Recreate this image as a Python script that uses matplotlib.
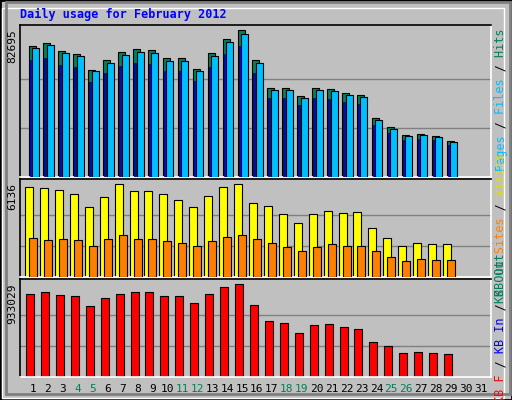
import matplotlib
matplotlib.use("Agg")
import matplotlib.pyplot as plt
from matplotlib.patches import Rectangle
import numpy as np

days = list(range(1, 32))
hits = [73700,75400,70900,69200,60200,65800,70300,72000,71400,66900,66900,60700,69700,77600,82695,65800,50100,50100,45600,50100,49500,47200,46100,33200,28100,23600,24200,23100,20200]
files = [72300,74000,69500,67800,59600,64400,68900,70600,70000,65500,65500,59900,68300,76200,80500,64400,49000,49000,44500,49000,48400,46100,45000,32200,27200,22800,23400,22300,19600]
pages = [65600,67100,63100,61600,53600,58600,62600,64100,63500,59500,59500,54000,62000,69100,73600,58600,44600,44600,40600,44600,44100,42000,41000,29500,25000,21000,21500,20600,18000]
visits = [5940,5874,5742,5478,4620,5280,6136,5676,5676,5478,5082,4620,5346,5940,6136,4884,4686,4158,3564,4158,4356,4224,4290,3234,2574,2046,2244,2178,2178]
sites = [2574,2442,2508,2442,2046,2508,2772,2508,2508,2376,2244,2046,2376,2640,2772,2508,2244,1980,1716,1980,2178,2046,2046,1716,1320,1056,1188,1122,1122]
kbytes = [829400,850100,819000,808600,715300,787900,829400,850100,850100,808600,808600,746400,829400,901900,933029,725700,559800,539100,445800,518400,528700,497600,476900,352500,311000,238400,248800,238400,228100]
weekend = [4,5,11,12,18,19,25,26]
max_hits, max_visits, max_kb = 82695, 6136, 933029

W, H = 512, 400
BG = "#c0c0c0"
fig = plt.figure(figsize=(W/100, H/100), dpi=100, facecolor=BG)
mono = "DejaVu Sans Mono"

fig.patches.append(Rectangle((0, 0), 1, 1, transform=fig.transFigure, fill=False, ec="black", lw=2))
fig.patches.append(Rectangle((2/W, 2/H), 1-10/W, 1-10/H, transform=fig.transFigure, fill=False, ec="white", lw=1))
fig.patches.append(Rectangle((6/W, 6/H), 1-8/W, 1-8/H, transform=fig.transFigure, fill=False, ec="#808080", lw=2))

px = 14.93
x0 = 1 + (20 - 33) / px
x1 = 1 + (491 - 33) / px

def mkax(ytop, ybot, vmax, ylab):
    ax = fig.add_axes([20/W, 1-ybot/H, 471/W, (ybot-ytop)/H])
    ax.set_facecolor(BG)
    ax.set_xlim(x0, x1)
    h = ybot - ytop - 2
    ax.set_ylim(0, vmax * (ybot - ytop) / (h - 3))
    for f in (1/3, 2/3):
        ax.axhline(vmax * f, color="#808080", lw=1, zorder=0)
    ax.set_xticks([]); ax.set_yticks([])
    for s in ax.spines.values():
        s.set_color("black"); s.set_linewidth(1.2)
    ax.spines["bottom"].set_color("white"); ax.spines["right"].set_color("white")
    fig.text(17/W, 1-(ytop+4)/H, ylab, rotation=90, ha="right", va="top", fontsize=8, family=mono)
    return ax

d = np.arange(1, len(hits)+1)
w = 7/px
ax1 = mkax(25, 177, max_hits, str(max_hits))
ax1.bar(d - 4.5/px, hits, width=w, align="edge", color="#00805c", ec="black", lw=0.8, zorder=2)
ax1.bar(d - 1/px, files, width=w, align="edge", color="#00bfff", ec="black", lw=0.8, zorder=3)
ax1.bar(d - 3.5/px, pages, width=2/px, align="edge", color="#0000ff", ec="black", lw=0.4, zorder=4)

ax2 = mkax(179, 277, max_visits, str(max_visits))
ax2.bar(d - 8/px, visits, width=8/px, align="edge", color="#ffff00", ec="black", lw=0.8, zorder=2)
ax2.bar(d - 4/px, sites, width=8/px, align="edge", color="#ff8000", ec="black", lw=0.8, zorder=3)

ax3 = mkax(279, 377, max_kb, str(max_kb))
ax3.bar(d - 7/px, kbytes, width=8/px, align="edge", color="#ff0000", ec="black", lw=0.8, zorder=2)

for dd in days:
    xp = 33 + (dd-1)*px
    fig.text(xp/W, 1-389/H, str(dd), ha="center", va="center", fontsize=8, family=mono,
             color="#00805c" if dd in weekend else "black")

fig.text(20/W, 1-14/H, "Daily usage for February 2012", ha="left", va="center",
         fontsize=8.5, family=mono, weight="bold", color="#0000ff")

def side(ycenter, parts):
    full = "".join(t for t, _ in parts)
    pos = 0
    for txt, col in parts:
        s = "\u2007" * pos + txt + "\u2007" * (len(full) - pos - len(txt))
        pos += len(txt)
        if txt.strip() == "":
            continue
        fig.text(501/W, 1-ycenter/H, s, rotation=90, ha="center", va="center",
                 fontsize=8.5, family=mono, color=col)

side(100, [("Pages", "#00bfff"), (" / ", "black"), ("Files", "#00bfff"), (" / ", "black"), ("Hits", "#00805c")])
side(228, [("KB Out", "#00805c"), (" ", "black"), ("Sites", "#ff8000"), (" / ", "black"), ("Visits", "#e0e000")])
side(328, [("KB F", "#ff0000"), (" / ", "black"), ("KB In", "#0000ff"), (" / ", "black"), ("KB Out", "#00805c")])

fig.savefig("out.png", dpi=100, facecolor=BG)
